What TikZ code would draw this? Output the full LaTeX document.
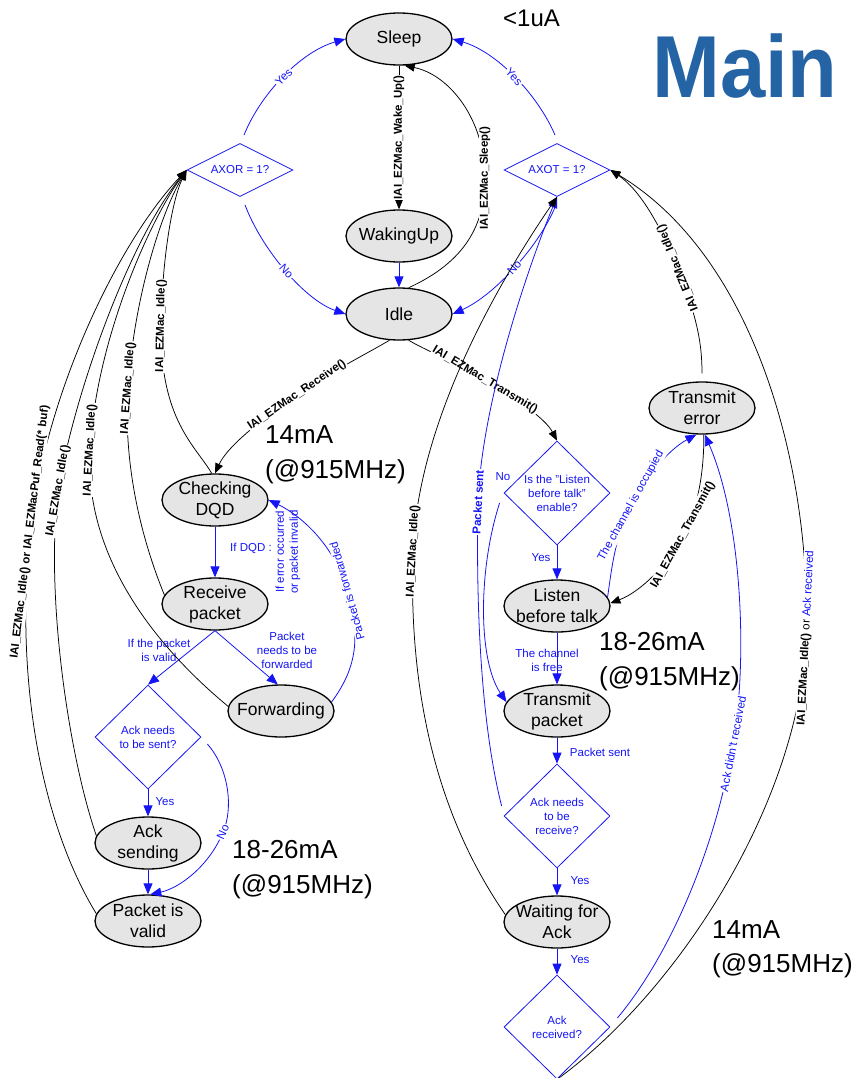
\documentclass[tikz,border=0pt]{standalone}
\usepackage{fontspec}
\setmainfont{Liberation Sans}
\usetikzlibrary{shapes.geometric,arrows.meta}
\definecolor{flowblue}{RGB}{20,20,245}
\definecolor{titleblue}{RGB}{36,100,164}
\definecolor{stategray}{RGB}{229,229,229}

\begin{document}
\begin{tikzpicture}[x=1pt,y=-1pt,
  fsmstate/.style={ellipse, draw=black, line width=1.3pt, fill=stategray,
    minimum width=106pt, minimum height=52pt, inner sep=0pt},
  statetext/.style={font=\fontsize{17.5}{21}\selectfont, align=center, inner sep=0pt},
  decision/.style={diamond, draw=flowblue, line width=0.8pt,
    minimum width=106pt, minimum height=104pt, inner sep=0pt},
  flatdecision/.style={decision, minimum height=53pt},
  dectext/.style={font=\fontsize{11.5}{14}\selectfont, text=flowblue, align=center, inner sep=0pt},
  ctl/.style={draw=black, line width=0.75pt, -{Triangle[length=10pt,width=8pt]}},
  flow/.style={draw=flowblue, line width=0.8pt, -{Triangle[length=11pt,width=9pt]}},
  calllbl/.style={font=\bfseries\fontsize{11.5}{13}\selectfont, fill=white, inner sep=1pt, text=black},
  cond/.style={font=\fontsize{11.5}{14}\selectfont, text=flowblue, align=center, inner sep=1pt},
  condcut/.style={cond, fill=white},
  mAlbl/.style={font=\fontsize{26}{30}\selectfont, anchor=base west, inner sep=0pt},
]
\useasboundingbox (0,0) rectangle (852,1078);

% ---------- states ----------
\node[fsmstate, label={[statetext]center:{Sleep}}] (sleep) at (399,39) {};
\node[fsmstate, label={[statetext]center:{WakingUp}}] (waking) at (399,236) {};
\node[fsmstate, label={[statetext]center:{Idle}}] (idle) at (399,314) {};
\node[fsmstate, label={[statetext]center:{Checking\\DQD}}] (dqd) at (215,500) {};
\node[fsmstate, label={[statetext]center:{Receive\\packet}}] (recv) at (215,604) {};
\node[fsmstate, label={[statetext]center:{Forwarding}}] (fwd) at (281,711) {};
\node[fsmstate, label={[statetext]center:{Ack\\sending}}] (acksend) at (148,843) {};
\node[fsmstate, label={[statetext]center:{Packet is\\valid}}] (valid) at (148,921) {};
\node[fsmstate, label={[statetext]center:{Transmit\\error}}] (txerr) at (702,408) {};
\node[fsmstate, label={[statetext]center:{Listen\\before talk}}] (listen) at (557,606) {};
\node[fsmstate, label={[statetext]center:{Transmit\\packet}}] (txpkt) at (557,711) {};
\node[fsmstate, label={[statetext]center:{Waiting for\\Ack}}] (waitack) at (557,922) {};

% ---------- decisions ----------
\node[flatdecision, label={[dectext]center:{AXOR = 1?}}] (axor) at (240,170) {};
\node[flatdecision, label={[dectext]center:{AXOT = 1?}}] (axot) at (557,170) {};
\node[decision, label={[dectext]center:{Ack needs\\to be sent?}}] (acksent) at (148,737) {};
\node[decision, label={[dectext]center:{Is the "Listen\\before talk"\\enable?}}] (lbt) at (557,493) {};
\node[decision, label={[dectext]center:{Ack needs\\to be\\receive?}}] (ackrecvq) at (557,816) {};
\node[decision, label={[dectext]center:{Ack\\received?}}] (ackrcvd) at (557,1027) {};

% ---------- title and supply currents ----------
\node[font=\bfseries\fontsize{88}{90}\selectfont, text=titleblue, anchor=base,
  inner sep=0pt, xscale=0.925] (title) at (745,98) {Main};
\node[font=\fontsize{24}{28}\selectfont, anchor=base west, inner sep=0pt] (sleepcur) at (503,27) {<1uA};
\node[mAlbl] (rxcur) at (265,443) {14mA};
\node[mAlbl] (rxfreq) at (265,478) {(@915MHz)};
\node[mAlbl] (txcur) at (599,650) {18-26mA};
\node[mAlbl] (txfreq) at (599,685) {(@915MHz)};
\node[mAlbl] (ackcur) at (232,858) {18-26mA};
\node[mAlbl] (ackfreq) at (232,893) {(@915MHz)};
\node[mAlbl] (waitcur) at (712,938) {14mA};
\node[mAlbl] (waitfreq) at (712,972) {(@915MHz)};

% ---------- sleep / wake cycle ----------
\draw[flow] ([shift={(4,-8)}]axor.north) .. controls (260,95) and (300,52) .. (sleep.west)
  node[condcut, pos=0.5, rotate=45] {Yes};
\draw[flow] ([shift={(5,8)}]axor.south) .. controls (262,250) and (305,300) .. (idle.west)
  node[condcut, pos=0.5, rotate=-48] {No};
\draw[flow] ([shift={(-2,-8)}]axot.north) .. controls (538,95) and (497,52) .. (sleep.east)
  node[condcut, pos=0.5, rotate=-47] {Yes};
\draw[flow] ([shift={(-1,8)}]axot.south) .. controls (540,245) and (495,295) .. (idle.east)
  node[condcut, pos=0.5, rotate=49] {No};
\draw[ctl] (sleep.south) -- node[calllbl, rotate=90] {IAI\_EZMac\_Wake\_Up()} (waking.north);
\draw[flow] (waking.south) -- (idle.north);
\draw[ctl] (idle.70) .. controls (465,262) and (485,225) .. (485,178)
  node[calllbl, rotate=90] {IAI\_EZMac\_Sleep()}
  .. controls (485,120) and (450,75) .. (sleep.282);

% ---------- receive branch ----------
\draw[ctl] (idle.250) .. controls (370,352) and (330,372) .. (297,395)
  node[calllbl, rotate=34] {IAI\_EZMac\_Receive()}
  .. controls (265,417) and (228,445) .. (dqd.north);
\draw[flow] (dqd.south) -- (recv.north);
\node[cond] (ifdqd) at (251,548) {If DQD :};
\node[cond, rotate=90] (dqdretry) at (288,552) {If error occurred\\or packet invalid};
\draw[flow] (recv.south) -- (acksent.north);
\node[cond] (ifvalid) at (159,650) {If the packet\\is valid};
\draw[flow] (recv.south) -- (fwd.97);
\node[cond] (iffwd) at (287,650) {Packet\\needs to be\\forwarded};
\draw[flow] (fwd.10) .. controls (355,670) and (362,640) .. (347,591)
  node[condcut, rotate=106] {Packet is forwarded}
  .. controls (335,545) and (300,515) .. (dqd.east);
\draw[flow] (acksent.south) -- (acksend.north);
\node[cond] (acksentyes) at (165,802) {Yes};
\draw[flow] ([shift={(6,7)}]acksent.east) .. controls (230,770) and (233,810) .. (223,832)
  node[condcut, rotate=65] {No}
  .. controls (210,865) and (180,888) .. (valid.85);
\draw[flow] (acksend.south) -- (valid.north);

% ---------- back to AXOR ----------
\draw[ctl] (dqd.97) .. controls (195,445) and (160,420) .. (161,326)
  node[calllbl, rotate=89] {IAI\_EZMac\_Idle()}
  .. controls (162,260) and (172,200) .. (axor.west);
\draw[ctl] (recv.170) .. controls (150,560) and (122,480) .. (128,388)
  node[calllbl, rotate=86] {IAI\_EZMac\_Idle()}
  .. controls (134,300) and (160,215) .. (axor.west);
\draw[ctl] (fwd.175) .. controls (160,650) and (84,560) .. (90,450)
  node[calllbl, rotate=87] {IAI\_EZMac\_Idle()}
  .. controls (96,340) and (150,220) .. (axor.west);
\draw[ctl] (acksend.172) .. controls (70,760) and (45,600) .. (58,491)
  node[calllbl, rotate=80] {IAI\_EZMac\_Idle()}
  .. controls (75,390) and (130,240) .. (axor.west);
\draw[ctl] (valid.172) .. controls (45,830) and (14,690) .. (30,532)
  node[calllbl, rotate=83] {IAI\_EZMac\_Idle() or IAI\_EZMacPuf\_Read(* buf)}
  .. controls (46,390) and (120,240) .. (axor.west);

% ---------- transmit branch ----------
\draw[ctl] (idle.290) .. controls (425,350) and (455,362) .. (485,380)
  node[calllbl, rotate=-31] {IAI\_EZMac\_Transmit()}
  .. controls (515,398) and (545,418) .. (lbt.north);
\draw[flow] (lbt.south) -- (listen.north);
\node[cond] (lbtyes) at (541,558) {Yes};
\draw[flow] ([shift={(-4,10)}]lbt.west) .. controls (478,570) and (478,660) .. (txpkt.170);
\node[cond] (lbtno) at (503,477) {No};
\draw[flow] (listen.south) -- (txpkt.north);
\node[cond] (chfree) at (547,660) {The channel\\is free};
\draw[flow] (listen.10) .. controls (611,575) and (614,538) .. (631,506)
  node[condcut, rotate=61] {The channel is occupied}
  .. controls (645,478) and (668,450) .. (txerr.258);
\draw[ctl] (txerr.274) .. controls (704,465) and (700,505) .. (683,535)
  node[calllbl, rotate=61] {IAI\_EZMac\_Transmit()}
  .. controls (668,565) and (640,592) .. (listen.3);
\draw[ctl] ([shift={(0,-8)}]txerr.north) .. controls (702,345) and (698,320) .. (678,268)
  node[calllbl, rotate=112] {IAI\_EZMac\_Idle()}
  .. controls (660,225) and (640,190) .. (axot.east);
\draw[flow] (txpkt.south) -- (ackrecvq.north);
\node[cond] (pktsent) at (600,752) {Packet sent};
\draw[flow] (ackrecvq.south) -- (waitack.north);
\node[cond] (ackneedyes) at (580,881) {Yes};
\draw[flow] (waitack.south) -- (ackrcvd.north);
\node[cond] (ackyes) at (580,960) {Yes};
\draw[flow] ([shift={(-2,-10)}]ackrecvq.west) .. controls (480,720) and (476,600) .. (478,502)
  node[condcut, font=\bfseries\fontsize{11.5}{13}\selectfont, rotate=87] {Packet sent}
  .. controls (482,400) and (530,262) .. (axot.south);
\draw[ctl] (waitack.172) .. controls (440,820) and (408,700) .. (413,551)
  node[calllbl, rotate=87] {IAI\_EZMac\_Idle()}
  .. controls (418,420) and (500,280) .. (axot.south);
\draw[flow] ([shift={(7,-9)}]ackrcvd.east) .. controls (670,955) and (715,850) .. (733,744)
  node[condcut, rotate=79] {Ack didn't received}
  .. controls (748,660) and (742,520) .. (txerr.276);
\draw[ctl] (ackrcvd.south) .. controls (680,990) and (800,800) .. (806,638)
  node[calllbl, rotate=87] {IAI\_EZMac\_Idle() {\mdseries or} \textcolor{flowblue}{\mdseries Ack received}}
  .. controls (812,480) and (760,260) .. (axot.east);
\end{tikzpicture}
\end{document}
